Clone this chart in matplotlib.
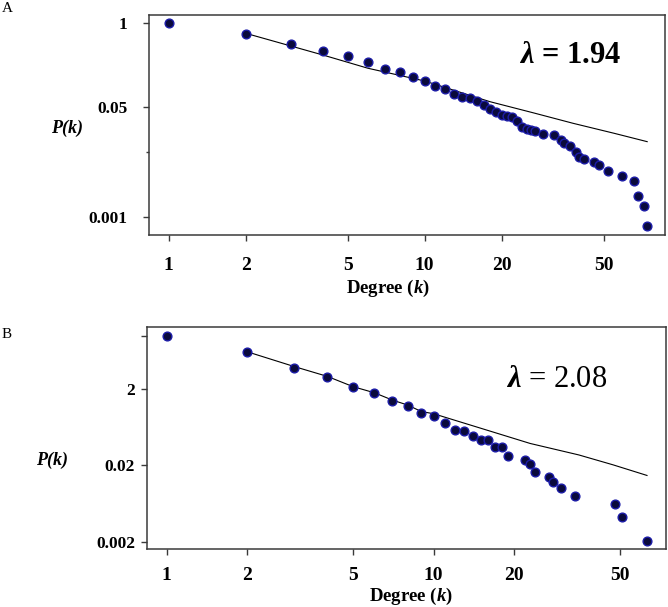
import matplotlib

matplotlib.use("Agg")

import matplotlib.pyplot as plt
from matplotlib.ticker import FixedLocator, NullFormatter, NullLocator

plt.rcParams["font.family"] = ["Liberation Serif", "DejaVu Serif"]
plt.rcParams["mathtext.fontset"] = "custom"
plt.rcParams["mathtext.rm"] = "Liberation Serif:bold"
plt.rcParams["mathtext.it"] = "Liberation Serif:italic:bold"
plt.rcParams["mathtext.bf"] = "Liberation Serif:bold"

# Panel A: degree distribution
k_a = [1, 2, 3, 4, 5, 6, 7, 8, 9, 10, 11, 12, 13, 14, 15, 16, 17, 18, 19, 20,
       21, 22, 23, 24, 25, 26, 27, 29, 32, 34, 35, 37, 39, 40, 42, 46, 48, 52,
       59, 66, 68, 72, 74]
p_a = [1, 0.676, 0.479, 0.369, 0.308, 0.249, 0.196, 0.176, 0.144, 0.125,
       0.105, 0.095, 0.0805, 0.0724, 0.0682, 0.0617, 0.0537, 0.0468, 0.0417,
       0.0380, 0.0363, 0.0347, 0.0309, 0.0245, 0.0226, 0.0221, 0.0213, 0.0191,
       0.0185, 0.0155, 0.0138, 0.0123, 0.0102, 0.0085, 0.0078, 0.0071, 0.0063,
       0.0051, 0.0043, 0.0036, 0.0021, 0.00145, 0.00072]
fit_k_a = [2, 4, 6, 10, 18, 26.5, 38, 55, 74]
fit_p_a = [0.693, 0.320, 0.1995, 0.1265, 0.0605, 0.0408, 0.0280, 0.0196, 0.01455]

# Panel B: degree distribution
k_b = [1, 2, 3, 4, 5, 6, 7, 8, 9, 10, 11, 12, 13, 14, 15, 16, 17, 18, 19, 22,
       23, 24, 27, 28, 30, 34, 48, 51, 63]
p_b = [1, 0.611, 0.377, 0.292, 0.212, 0.177, 0.142, 0.122, 0.0975, 0.0883,
       0.0728, 0.0584, 0.0566, 0.0487, 0.0432, 0.0432, 0.0353, 0.0353, 0.0269,
       0.0236, 0.0209, 0.0166, 0.0143, 0.0122, 0.0102, 0.0080, 0.0062, 0.0042,
       0.00206]
fit_k_b = [2, 3, 4, 5, 6, 7, 8, 9, 10, 15, 23, 35, 47, 63]
fit_p_b = [0.622, 0.398, 0.295, 0.216, 0.180, 0.1445, 0.124, 0.102, 0.0955,
           0.0617, 0.0389, 0.0275, 0.0204, 0.0148]

x_ticks = [1, 2, 5, 10, 20, 50]
x_tick_labels = ["1", "2", "5", "10", "20", "50"]
y_ticks_a = [1, 0.05, 0.001]
y_tick_labels_a = ["1", "0.05", "0.001"]
y_ticks_b = [1, 0.2, 0.02, 0.002]
y_tick_labels_b = ["", "2", "0.02", "0.002"]

W, H = 668, 607


def px_box(left, top, right, bottom):
    return [left / W, 1 - bottom / H, (right - left) / W, (bottom - top) / H]


def style_axes(ax, xlim, ylim, yticks, ylabels, ypad, xpad):
    ax.set_xscale("log")
    ax.set_yscale("log")
    ax.set_xlim(*xlim)
    ax.set_ylim(*ylim)
    ax.xaxis.set_major_locator(FixedLocator(x_ticks))
    ax.xaxis.set_minor_locator(NullLocator())
    ax.set_xticklabels(x_tick_labels)
    ax.yaxis.set_major_locator(FixedLocator(yticks))
    ax.yaxis.set_minor_locator(NullLocator())
    ax.yaxis.set_minor_formatter(NullFormatter())
    ax.set_yticklabels(ylabels)
    for spine in ax.spines.values():
        spine.set_color("#3a3a3a")
        spine.set_linewidth(1.1)
    ax.tick_params(axis="x", direction="out", length=4.5, width=1, color="#3a3a3a",
                   labelsize=14, pad=xpad)
    ax.tick_params(axis="y", direction="out", length=4.5, width=1, color="#3a3a3a",
                   labelsize=12.5, pad=ypad)
    for label in ax.get_xticklabels() + ax.get_yticklabels():
        label.set_fontweight("bold")


def draw_points(ax, k, p, fit_k, fit_p):
    ax.plot(fit_k, fit_p, color="black", linewidth=0.8, zorder=2)
    ax.plot(k, p, linestyle="none", marker="o", markersize=6.3,
            markerfacecolor="#0a0a3c", markeredgecolor="#1c1ca8",
            markeredgewidth=1.0, zorder=3)


fig = plt.figure(figsize=(W / 100, H / 100), dpi=100)

ax_a = fig.add_axes(px_box(149, 14.7, 665.3, 235))
draw_points(ax_a, k_a, p_a, fit_k_a, fit_p_a)
style_axes(ax_a, (0.838, 87.1), (5.22e-4, 1.345), y_ticks_a, y_tick_labels_a,
           ypad=11, xpad=11)
ax_a.yaxis.set_minor_locator(FixedLocator([0.01]))
ax_a.yaxis.set_minor_formatter(NullFormatter())
ax_a.tick_params(axis="y", which="minor", length=2.5, width=1, color="#3a3a3a")
ax_a.text(0.815, 0.817, r"$\lambda$ = 1.94", transform=ax_a.transAxes,
          fontsize=22, fontweight="bold", ha="center", va="center")

ax_b = fig.add_axes(px_box(146.7, 327.3, 665.5, 549.3))
draw_points(ax_b, k_b, p_b, fit_k_b, fit_p_b)
style_axes(ax_b, (0.842, 73.9), (1.59e-3, 1.30), y_ticks_b, y_tick_labels_b,
           ypad=4, xpad=8)
ax_b.text(0.791, 0.763, r"$\lambda$ = 2.08", transform=ax_b.transAxes,
          fontsize=22, ha="center", va="center")

# axis labels placed like the original figure
fig.text(66.6 / W, 1 - 128.3 / H, "P(k)", fontsize=13, fontweight="bold",
         fontstyle="italic", ha="center", va="center")
fig.text(52 / W, 1 - 460 / H, "P(k)", fontsize=13, fontweight="bold",
         fontstyle="italic", ha="center", va="center")
fig.text(388.4 / W, 1 - 288 / H, r"Degree ($k$)", fontsize=13.5, fontweight="bold",
         ha="center", va="center")
fig.text(410.5 / W, 1 - 596 / H, r"Degree ($k$)", fontsize=13.5, fontweight="bold",
         ha="center", va="center")

fig.text(7.7 / W, 1 - 8.3 / H, "A", fontsize=11, ha="center", va="center")
fig.text(6.4 / W, 1 - 334 / H, "B", fontsize=11, ha="center", va="center")

fig.savefig("out.png", dpi=100)
